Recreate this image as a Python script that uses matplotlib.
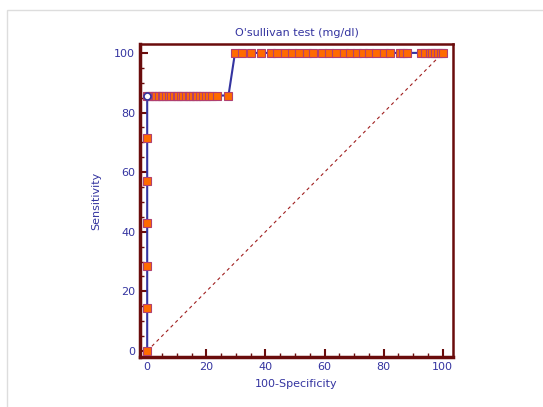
import matplotlib.pyplot as plt
from matplotlib.patches import Rectangle

# ROC points (100-Specificity, Sensitivity)
fpr_vert = [0, 0, 0, 0, 0, 0]
sens_vert = [0, 14.3, 28.6, 42.9, 57.1, 71.4]

fpr_mid = [0, 0.5, 1.5, 2.5, 3, 4, 5, 5.5, 6.5, 7.5, 8, 9, 10, 10.5, 11.5, 12,
           13, 14, 14.5, 15.5, 16.5, 17, 18, 19, 20, 21, 22, 23.5, 27.5]
sens_mid = [85.7] * len(fpr_mid)

fpr_top = [29.7, 32, 35, 38.5, 42, 44, 46.5, 49, 51.5, 54, 56, 59, 61.5, 64,
           66.5, 68.5, 71, 73, 75, 77.5, 80, 82, 85.5, 86.5, 88, 92.5, 94,
           95.5, 96.5, 97.5, 98.5, 99.5, 100]
sens_top = [100] * len(fpr_top)

fpr = fpr_vert + fpr_mid + fpr_top
sens = sens_vert + sens_mid + sens_top

blue = '#3434a0'
maroon = '#6a0c0c'

fig = plt.figure(figsize=(5.43, 4.07), dpi=100)
# light frame around the picture (runs off the right and bottom edges)
fig.patches.append(Rectangle((7 / 543, -0.05), 1.1, 1 - 10 / 407 + 0.05,
                             transform=fig.transFigure, fill=False,
                             edgecolor='#dddddd', linewidth=1))

ax = fig.add_axes([0.258, 0.123, 0.576, 0.769])

# reference diagonal
ax.plot([0, 100], [0, 100], linestyle=(0, (3, 3)), color='#a02020', linewidth=0.8)

# ROC curve
ax.plot(fpr, sens, color=blue, linewidth=1.5, zorder=2)
ax.plot(fpr, sens, linestyle='none', marker='s', markersize=5.2,
        markerfacecolor='#ff6a00', markeredgecolor='#b04070',
        markeredgewidth=0.8, zorder=3)
# optimal cutoff
ax.plot([0], [85.7], marker='o', markersize=5, markerfacecolor='white',
        markeredgecolor=blue, markeredgewidth=1.2, zorder=4)

ax.set_xlim(-2.4, 103.4)
ax.set_ylim(-2, 103)
ax.set_xticks(range(0, 101, 20))
ax.set_yticks(range(0, 101, 20))
ax.set_xticks(range(0, 101, 5), minor=True)
ax.set_yticks(range(0, 101, 5), minor=True)
ax.tick_params(which='both', direction='in', color=maroon, labelcolor=blue,
               labelsize=8)
ax.tick_params(which='major', length=6, width=1.5)
ax.tick_params(which='minor', length=3, width=1)

for side in ['left', 'bottom']:
    ax.spines[side].set_linewidth(2.5)
    ax.spines[side].set_color(maroon)
for side in ['top', 'right']:
    ax.spines[side].set_linewidth(1.8)
    ax.spines[side].set_color(maroon)

ax.set_title("O'sullivan test (mg/dl)", color=blue, fontsize=8, pad=6)
ax.set_xlabel('100-Specificity', color=blue, fontsize=8, labelpad=5)
ax.set_ylabel('Sensitivity', color=blue, fontsize=8, labelpad=9)

fig.savefig('out.png', dpi=100)
